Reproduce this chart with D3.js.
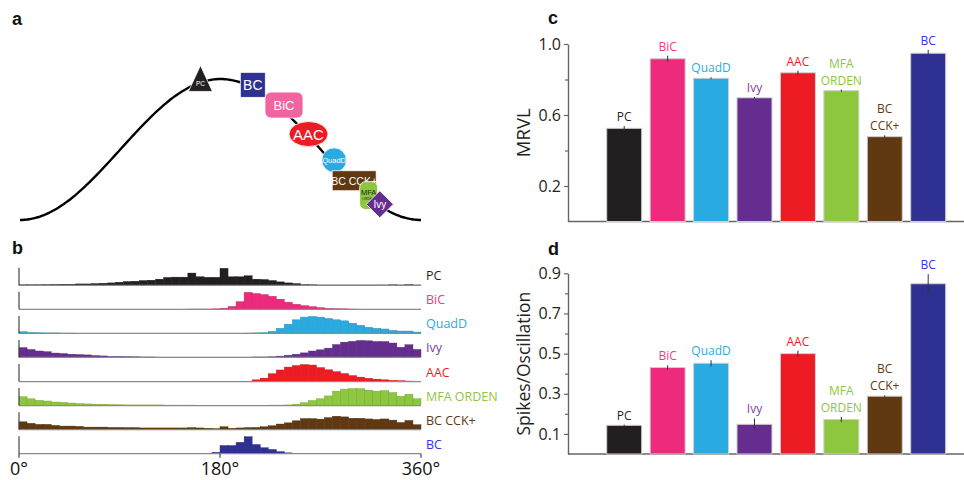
<!DOCTYPE html>
<html><head><meta charset="utf-8">
<script src="https://cdn.jsdelivr.net/npm/d3@7"></script>
<style>body{margin:0;background:#fff} svg{display:block}</style>
</head><body>
<svg id="fig" width="964" height="480"></svg>
<script>
// ---------------- DATA ----------------
const cellTypes = ["PC","BiC","QuadD","Ivy","AAC","MFA ORDEN","BC CCK+","BC"];
const barColors = ["#231f20","#ed2a7b","#29abe2","#662d91","#ed1c24","#8dc63f","#603913","#2e3192"];
const labelColors = ["#231f20","#ee3d86","#29abe2","#7f3f98","#ed1c24","#8dc63f","#603913","#3535ee"];

const mrvl      = [0.525,0.917,0.807,0.697,0.838,0.737,0.478,0.948];
const mrvlErr   = [0.013,0.017,0.005,0.005,0.012,0.006,0.008,0.019];
const spikes    = [0.143,0.431,0.452,0.148,0.500,0.172,0.288,0.848];
const spikesErr = [0.003,0.011,0.015,0.029,0.015,0.013,0.004,0.048];

const mrvlTicks  = [0.2,0.6,1.0];
const mrvlMinor  = [0.4,0.8];
const spikeTicks = [0.1,0.3,0.5,0.7,0.9];
const spikeMinor = [0.2,0.4,0.6,0.8];
const phaseTicks = [0,180,360];

// phase histograms (50 bins of 7.2 deg, relative height)
const histPC = [.03,.03,.03,.04,.05,.06,.06,.08,.08,.1, .12,.14,.18,.22,.24,.28,.3,.36,.46,.48,
  .48,.72,.5,.47,.47,1.0,.5,.5,.56,.36, .34,.28,.2,.14,.1,.04,.03,.02,.02,.02,
  .02,.02,.02,.02,.02,.02,.03,.02,.04,.02];
const histBiC = [0,0,0,0,0,0,0,0,0,0, 0,0,0,0,0,0,0,0,.01,.01,
  .01,.02,.02,.02,.03,.07,.17,.45,1.0,.93, .87,.77,.6,.42,.3,.22,.16,.1,.06,.04,
  .03,.02,.01,.01,.01,.01,.01,.01,.01,.01];
const histQuadD = [.1,.06,.04,.03,.03,.02,.02,.01,.01,.01, .01,.01,.01,0,0,0,0,0,0,0,
  0,0,0,0,0,0,.01,.01,.02,.03, .04,.12,.3,.54,.8,.96,1.0,.96,.88,.8,
  .74,.6,.48,.36,.3,.26,.18,.14,.14,.08];
const histIvy = [.58,.47,.38,.34,.26,.23,.19,.17,.15,.11, .09,.06,.06,.05,.04,.03,.03,.02,.02,.02,
  .02,.02,.02,.02,.02,.02,.02,.02,.02,.03, .03,.04,.08,.13,.19,.27,.38,.45,.55,.76,
  .9,.95,1.0,.98,.94,.94,.85,.6,.75,.47];
const histAAC = [.02,.02,.02,.02,.02,.01,.01,0,0,0, 0,0,0,0,0,0,0,0,0,0,
  0,0,0,0,0,0,0,.01,.02,.1, .2,.46,.68,.85,.94,1.0,.97,.82,.69,.58,
  .47,.35,.26,.19,.14,.1,.07,.05,.03,.02];
const histMFA = [.52,.4,.31,.27,.21,.19,.15,.12,.1,.08, .08,.06,.05,.04,.04,.04,.04,.04,.03,.03,
  .03,.03,.02,.02,.02,.02,.02,.02,.02,.02, .02,.03,.03,.04,.08,.17,.3,.4,.57,.85,
  .97,1.0,1.0,.91,.85,.88,.77,.55,.67,.4];
const histBCCCK = [.46,.37,.31,.31,.25,.21,.21,.19,.15,.15, .15,.13,.13,.12,.12,.1,.1,.1,.1,.1,
  .1,.12,.1,.08,.06,.17,.08,.1,.12,.13, .17,.23,.33,.4,.52,.65,.65,.62,.71,.79,
  .75,.67,.67,.63,.6,.63,.56,.42,.54,.29];
const histBC = [0,0,0,0,0,0,0,0,0,0, 0,0,0,0,0,0,0,0,0,0,
  0,0,.01,.03,.08,.48,.48,.67,1.0,.54, .35,.25,.12,.05,.02,0,0,0,0,0,
  0,0,0,0,0,0,0,0,0,0];
const histograms = [histPC,histBiC,histQuadD,histIvy,histAAC,histMFA,histBCCCK,histBC];

// panel a: preferred firing phase (deg) of each cell type on the theta cycle
const schemeTypes = ["PC","BC","BiC","AAC","QuadD","BC CCK+","MFA ORDEN","Ivy"];
const schemePhase = [162,209,237,259,282,300,313,323];

// ---------------- DRAWING ----------------
const svg = d3.select("#fig");
const FONT = "'Open Sans', sans-serif";

// panel letters
[["a",12,25],["b",12,254],["c",548,24],["d",548,255]].forEach(([t,x,y]) =>
  svg.append("text").attr("x",x).attr("y",y).text(t)
    .attr("font-family","'Liberation Sans', Arial, sans-serif").attr("font-weight","bold")
    .attr("font-size",18).attr("fill","#111"));

// ---------- panel a ----------
const xA = d3.scaleLinear().domain([0,360]).range([20,421]);
const yA = d3.scaleLinear().domain([-1,1]).range([220,79]);
const wave = d3.range(0,361,2).map(p => [p, -Math.cos(p*Math.PI/180)]);
const gA = svg.append("g");
gA.append("path").datum(wave)
  .attr("d", d3.line().x(d=>xA(d[0])).y(d=>yA(d[1])).curve(d3.curveBasis))
  .attr("fill","none").attr("stroke","#000").attr("stroke-width",2.4);

const shapeStyle = {
  "PC":       {dy:0,  fill:"#231f20"},
  "BC":       {dy:-3, fill:"#2e3192"},
  "BiC":      {dy:-6, fill:"#f0649f"},
  "AAC":      {dy:-2, fill:"#ed1c24"},
  "QuadD":    {dy:-4, fill:"#29abe2"},
  "BC CCK+":  {dy:-4, fill:"#603913"},
  "MFA ORDEN":{dy:-2, fill:"#8dc63f"},
  "Ivy":      {dy:-1.5, fill:"#662d91"}
};
schemeTypes.forEach((t,i) => {
  const p = schemePhase[i], st = shapeStyle[t];
  const cx = xA(p), cy = yA(-Math.cos(p*Math.PI/180)) + st.dy;
  const g = gA.append("g").attr("transform",`translate(${cx},${cy})`);
  const txt = (s,size,col,y0) => g.append("text").attr("x",0).attr("y",y0||0).text(s)
      .attr("text-anchor","middle").attr("dominant-baseline","central")
      .attr("font-family","'Liberation Sans', Arial, sans-serif").attr("font-size",size).attr("fill",col);
  if (t==="PC") {
    g.append("path").attr("d","M0,-17 L12,9 L-12,9 Z").attr("fill",st.fill).attr("stroke","#fff").attr("stroke-width",0.8);
    txt("PC",6.5,"#fff",1.5);
  } else if (t==="BC") {
    g.append("rect").attr("x",-12.5).attr("y",-12.5).attr("width",25).attr("height",25)
      .attr("fill",st.fill).attr("stroke","#fff").attr("stroke-width",0.8);
    txt("BC",14,"#fff",0.5);
  } else if (t==="BiC") {
    g.append("rect").attr("x",-19).attr("y",-13).attr("width",38).attr("height",26).attr("rx",6)
      .attr("fill",st.fill).attr("stroke","#fff").attr("stroke-width",0.8);
    txt("BiC",13,"#fff",0.5);
  } else if (t==="AAC") {
    g.append("ellipse").attr("rx",19.5).attr("ry",12.5)
      .attr("fill",st.fill).attr("stroke","#fff").attr("stroke-width",0.8);
    txt("AAC",15,"#fff",0.5);
  } else if (t==="QuadD") {
    g.append("circle").attr("r",12.3).attr("fill",st.fill).attr("stroke","#fff").attr("stroke-width",0.8);
    txt("QuadD",7.5,"#fff",0.5);
  } else if (t==="BC CCK+") {
    g.append("rect").attr("x",-22).attr("y",-10).attr("width",44).attr("height",20)
      .attr("fill",st.fill).attr("stroke","#fff").attr("stroke-width",0.8);
    txt("BC CCK+",10.5,"#fff",0.5);
  } else if (t==="MFA ORDEN") {
    g.append("rect").attr("x",-9).attr("y",-14).attr("width",18).attr("height",28).attr("rx",6)
      .attr("fill",st.fill).attr("stroke","#fff").attr("stroke-width",0.8);
    txt("MFA",7.5,"#231f20",-3);
    txt("ORDEN",3.5,"#231f20",3.5);
  } else if (t==="Ivy") {
    g.append("path").attr("d","M0,-13.5 L13.5,0 L0,13.5 L-13.5,0 Z")
      .attr("fill",st.fill).attr("stroke","#fff").attr("stroke-width",0.8);
    txt("Ivy",10,"#fff",0.5);
  }
});

// ---------- panel b ----------
const xB = d3.scaleLinear().domain([0,360]).range([19,421]);
const rowY = d3.scalePoint().domain(cellTypes).range([285.3,453.7]);
const rowH = 17;
const nBins = 50, binW = 360/nBins;
const gB = svg.append("g");
cellTypes.forEach((t,i) => {
  const base = rowY(t);
  const hy = d3.scaleLinear().domain([0,1]).range([base, base-rowH]);
  const col = barColors[i];
  gB.append("g").selectAll("rect").data(histograms[i]).join("rect")
    .attr("x",(d,k)=>xB(k*binW)).attr("width",xB(binW)-xB(0))
    .attr("y",d=>hy(d)).attr("height",d=>base-hy(d))
    .attr("fill",col).attr("stroke",d3.color(col).darker(0.6)).attr("stroke-width",0.4);
  gB.append("line").attr("x1",xB(0)).attr("x2",xB(360)).attr("y1",base).attr("y2",base)
    .attr("stroke","#8a8a8a").attr("stroke-width",1.2);
  gB.append("line").attr("x1",xB(0)).attr("x2",xB(0)).attr("y1",base).attr("y2",base-rowH-0.5)
    .attr("stroke","#444").attr("stroke-width",1.2);
  gB.append("text").attr("x",426).attr("y",base-5).text(t)
    .attr("font-family",FONT).attr("font-size",12.5).attr("fill",labelColors[i]);
});
const lastBase = rowY(cellTypes[cellTypes.length-1]);
phaseTicks.forEach(p => {
  gB.append("line").attr("x1",xB(p)).attr("x2",xB(p)).attr("y1",lastBase).attr("y2",lastBase+4)
    .attr("stroke","#444").attr("stroke-width",1.2);
  gB.append("text").attr("x",xB(p)).attr("y",475).text(p+"°").attr("text-anchor","middle")
    .attr("font-family",FONT).attr("font-size",18).attr("fill","#111");
});

// ---------- panels c & d ----------
const xBar = d3.scaleBand().domain(cellTypes).range([602.5,949.9]).paddingInner(0.194).paddingOuter(0.097);

function barPanel(vals, errs, yMax, yBottom, yTop, ticks, minor, yLabel, labelSize) {
  const g = svg.append("g");
  const y = d3.scaleLinear().domain([0,yMax]).range([yBottom,yTop]);
  const ax = g.append("g").attr("transform","translate(568,0)")
    .call(d3.axisLeft(y).tickValues(ticks).tickFormat(d3.format(".1f")).tickSize(4).tickSizeOuter(0).tickPadding(3));
  ax.select(".domain").attr("stroke","#666").attr("stroke-width",1.4);
  ax.selectAll(".tick line").attr("stroke","#666").attr("stroke-width",1.2);
  ax.selectAll(".tick text").attr("font-family",FONT).attr("font-size",16).attr("fill","#231f20");
  g.append("g").attr("transform","translate(568,0)")
    .call(d3.axisLeft(y).tickValues(minor).tickFormat("").tickSize(3).tickSizeOuter(0))
    .call(a=>a.select(".domain").remove())
    .selectAll(".tick line").attr("stroke","#666").attr("stroke-width",1.2);
  g.append("line").attr("x1",568).attr("x2",964).attr("y1",yBottom).attr("y2",yBottom)
    .attr("stroke","#666").attr("stroke-width",1.4);
  g.append("text").attr("transform",`translate(530,${(yBottom+yTop)/2}) rotate(-90)`)
    .attr("text-anchor","middle").text(yLabel)
    .attr("font-family",FONT).attr("font-size",labelSize).attr("fill","#231f20");
  cellTypes.forEach((t,i) => {
    const x0 = xBar(t), bw = xBar.bandwidth(), cx = x0 + bw/2;
    g.append("rect").attr("x",x0).attr("y",y(vals[i])).attr("width",bw).attr("height",yBottom-y(vals[i]))
      .attr("fill",barColors[i]).attr("stroke","#d0d0d0").attr("stroke-width",1);
    g.append("line").attr("x1",cx).attr("x2",cx).attr("y1",y(vals[i]-errs[i])).attr("y2",y(vals[i]+errs[i]))
      .attr("stroke","#333").attr("stroke-width",1);
    const lines = t==="MFA ORDEN" ? ["MFA","ORDEN"] : t==="BC CCK+" ? ["BC","CCK+"] : [t];
    const yb = y(vals[i]+errs[i]) - 5;
    lines.forEach((s,k) => g.append("text").attr("x",cx).attr("y",yb-(lines.length-1-k)*17).text(s)
      .attr("text-anchor","middle").attr("font-family",FONT).attr("font-size",12).attr("fill",labelColors[i]));
  });
}
barPanel(mrvl, mrvlErr, 1.0, 221.5, 44, mrvlTicks, mrvlMinor, "MRVL", 18.5);
barPanel(spikes, spikesErr, 0.9, 454, 273.3, spikeTicks, spikeMinor, "Spikes/Oscillation", 17.5);
</script>
</body></html>
